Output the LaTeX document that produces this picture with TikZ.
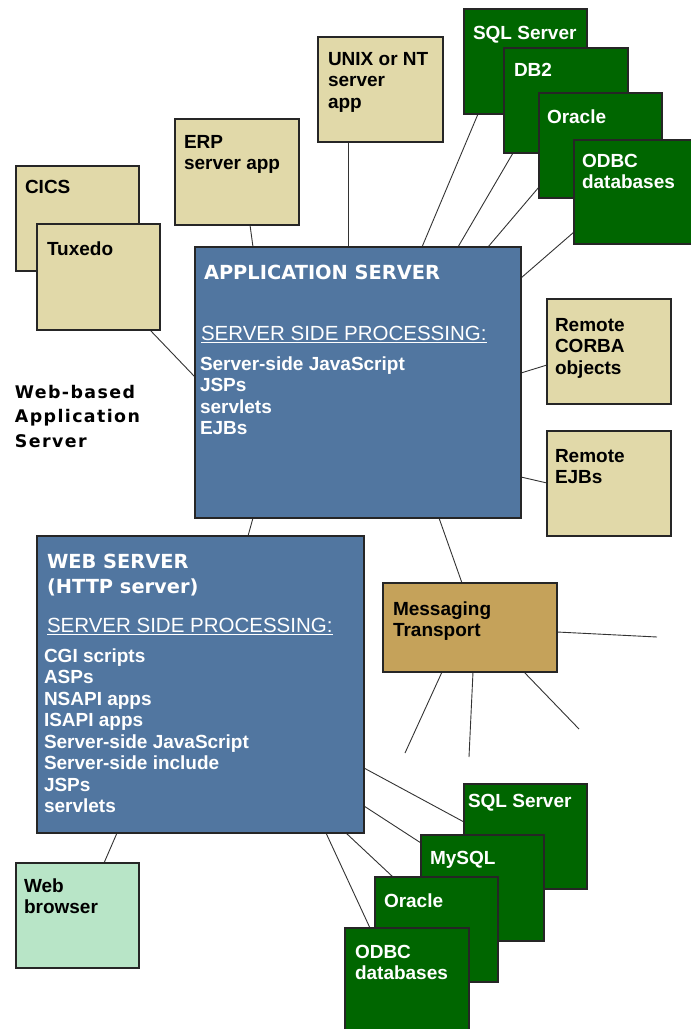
\documentclass[tikz,border=0pt]{standalone}
\usepackage{fontspec}
\setmainfont{Liberation Sans}
\newfontfamily\vfont{DejaVu Sans}
\newfontfamily\vfontsp{DejaVu Sans}[LetterSpace=8]
\usetikzlibrary{calc,backgrounds}
\definecolor{boxtan}{HTML}{E1D9A9}
\definecolor{srvblue}{HTML}{5176A0}
\definecolor{dbgreen}{HTML}{006600}
\definecolor{msgtan}{HTML}{C5A25A}
\definecolor{browgreen}{HTML}{B8E5C7}
\newcommand\firstln{\rule{0pt}{16pt}}
\newcommand\bx[6]{\node[#6, minimum width={#4-#2}, minimum height={#5-#3}] (#1) at (#2,#3) {};}
\newcommand\lb[5]{\node[#4] (#1) at (#2,#3-16) {\firstln #5};}
\begin{document}
\begin{tikzpicture}[x=1pt,y=-1pt,
  box/.style={draw=black!85, line width=1.4pt, inner sep=0pt, outer sep=0pt, anchor=north west},
  tanbox/.style={box, fill=boxtan},
  srvbox/.style={box, fill=srvblue},
  dbbox/.style={box, fill=dbgreen},
  msgbox/.style={box, fill=msgtan},
  browbox/.style={box, fill=browgreen},
  lbl/.style={inner sep=0pt, outer sep=0pt, anchor=north west, align=left, font=\fontsize{19}{21.5}\selectfont\bfseries},
  wlbl/.style={lbl, text=white},
  ttl/.style={lbl, text=white, font=\vfont\fontsize{19.4}{25}\selectfont\bfseries},
  ssp/.style={inner sep=0pt, outer sep=0pt, anchor=north west, text=white, font=\fontsize{20.5}{24}\selectfont},
  captxt/.style={lbl, font=\vfontsp\fontsize{17.4}{24.5}\selectfont\bfseries},
  conn/.style={draw=black!80, line width=0.9pt}]
\useasboundingbox (0,0) rectangle (691,1029);
\clip (0,0) rectangle (691,1029);
% boxes
\bx{cics}{16}{166}{139}{271}{tanbox}
\bx{tux}{37}{224}{160}{330}{tanbox}
\bx{erp}{175}{119}{299}{225}{tanbox}
\bx{unix}{318}{37}{443}{142}{tanbox}
\bx{sqlT}{464}{9}{587}{114}{dbbox}
\bx{db2T}{504}{48}{628}{153}{dbbox}
\bx{oraT}{539}{93}{662}{198}{dbbox}
\bx{odbcT}{574}{140}{697}{244}{dbbox}
\bx{app}{195}{247}{521}{518}{srvbox}
\bx{corba}{547}{299}{671}{404}{tanbox}
\bx{rejb}{547}{431}{671}{536}{tanbox}
\bx{web}{37}{536}{364}{833}{srvbox}
\bx{msg}{383}{583}{557}{672}{msgbox}
\bx{brow}{16}{863}{139}{968}{browbox}
\bx{sqlB}{464}{784}{587}{889}{dbbox}
\bx{mysql}{421}{835}{544}{941}{dbbox}
\bx{oraB}{375}{877}{498}{982}{dbbox}
\bx{odbcB}{345}{928}{469}{1040}{dbbox}
% free ends
\coordinate (f1) at (657,637);
\coordinate (f2) at (405,753);
\coordinate (f3) at (469,757);
\coordinate (f4) at (579,729);
% connectors
\begin{pgfonlayer}{background}
\draw[conn] ($(erp.south west)+(75,0)$) -- ($(app.north west)+(58,0)$);
\draw[conn] ($(unix.south west)+(30,0)$) -- ($(app.north west)+(153,0)$);
\draw[conn] ($(sqlT.south west)+(14,0)$) -- ($(app.north west)+(227,0)$);
\draw[conn] ($(db2T.south west)+(9,0)$) -- ($(app.north west)+(263,0)$);
\draw[conn] ($(oraT.north west)+(0,94)$) -- ($(app.north west)+(293,0)$);
\draw[conn] ($(odbcT.north west)+(0,92)$) -- ($(app.north east)+(0,31)$);
\draw[conn] ($(tux.south west)+(113,0)$) -- ($(app.north west)+(0,130)$);
\draw[conn] ($(app.north east)+(0,126)$) -- ($(corba.north west)+(0,66)$);
\draw[conn] ($(app.north east)+(0,230)$) -- ($(rejb.north west)+(0,52)$);
\draw[conn] ($(app.south west)+(58,0)$) -- ($(web.north west)+(211,0)$);
\draw[conn] ($(app.south west)+(244,0)$) -- ($(msg.north west)+(79,0)$);
\draw[conn] ($(msg.north east)+(0,49)$) -- (f1);
\draw[conn] ($(msg.south west)+(59,0)$) -- (f2);
\draw[conn] ($(msg.south west)+(90,0)$) -- (f3);
\draw[conn] ($(msg.south west)+(141,0)$) -- (f4);
\draw[conn] ($(web.north east)+(0,232)$) -- ($(sqlB.north west)+(0,38)$);
\draw[conn] ($(web.north east)+(0,270)$) -- ($(mysql.north west)+(0,8)$);
\draw[conn] ($(web.south west)+(309,0)$) -- ($(oraB.north west)+(18,0)$);
\draw[conn] ($(web.south west)+(289,0)$) -- ($(odbcB.north west)+(25,0)$);
\draw[conn] ($(web.south west)+(80,0)$) -- ($(brow.north west)+(88,0)$);
\end{pgfonlayer}
% labels
\lb{cicsL}{25}{193}{lbl}{CICS}
\lb{tuxL}{47}{255}{lbl}{Tuxedo}
\lb{erpL}{184}{148}{lbl}{ERP\\server app}
\lb{unixL}{328}{65}{lbl}{UNIX or NT\\server\\app}
\lb{sqlTL}{473}{39}{wlbl}{SQL Server}
\lb{db2TL}{514}{76}{wlbl}{DB2}
\lb{oraTL}{547}{123}{wlbl}{Oracle}
\lb{odbcTL}{582}{167}{wlbl}{ODBC\\databases}
\lb{corbaL}{555}{331}{lbl}{Remote\\CORBA\\objects}
\lb{rejbL}{555}{462}{lbl}{Remote\\EJBs}
\lb{msgL}{393}{615}{lbl}{Messaging\\Transport}
\lb{browL}{24}{892}{lbl}{Web\\browser}
\lb{sqlBL}{468}{807}{wlbl}{SQL Server}
\lb{mysqlL}{430}{864}{wlbl}{MySQL}
\lb{oraBL}{384}{907}{wlbl}{Oracle}
\lb{odbcBL}{355}{958}{wlbl}{ODBC\\databases}
\lb{capL}{15}{398}{captxt}{Web-based\\Application\\Server}
% application server text
\lb{appT}{204}{279}{ttl}{APPLICATION SERVER}
\lb{appS}{201}{340}{ssp}{SERVER SIDE PROCESSING:}
\lb{appI}{200}{370}{wlbl}{Server-side JavaScript\\JSPs\\servlets\\EJBs}
\draw[white, line width=1.3pt] ($(appS.base west)+(0,2.5)$) -- ($(appS.base east)+(0,2.5)$);
% web server text
\lb{webT}{47}{568}{ttl}{WEB SERVER\\(HTTP server)}
\lb{webS}{47}{632}{ssp}{SERVER SIDE PROCESSING:}
\lb{webI}{44}{662}{wlbl}{CGI scripts\\ASPs\\NSAPI apps\\ISAPI apps\\Server-side JavaScript\\Server-side include\\JSPs\\servlets}
\draw[white, line width=1.3pt] ($(webS.base west)+(0,2.5)$) -- ($(webS.base east)+(0,2.5)$);
\end{tikzpicture}
\end{document}
